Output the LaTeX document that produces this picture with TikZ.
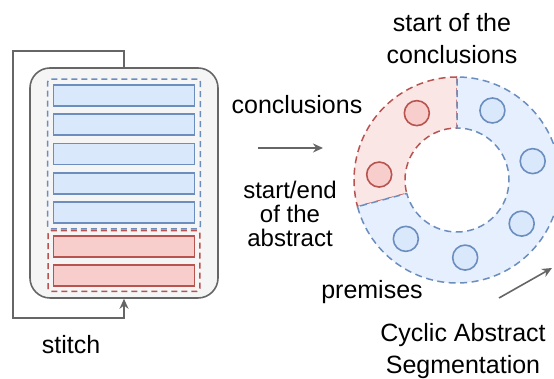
\documentclass[tikz,border=0pt]{standalone}
\usepackage{fontspec}
\setmainfont{Liberation Sans}
\usetikzlibrary{arrows.meta,fit}
\definecolor{bluefill}{HTML}{DAE8FC}
\definecolor{bluedraw}{HTML}{6C8EBF}
\definecolor{redfill}{HTML}{F8CECC}
\definecolor{reddraw}{HTML}{B85450}
\definecolor{grayfill}{HTML}{F5F5F5}
\definecolor{graydraw}{HTML}{666666}
\begin{document}
\begin{tikzpicture}[x=1pt,y=1pt,
		txt/.style={align=center, inner sep=0pt, font=\fontsize{25}{32}\selectfont},
		bar/.style={draw, line width=1.8pt, minimum width=141pt, minimum height=21pt, inner sep=0pt},
		dot/.style={circle, draw, line width=1.6pt, minimum size=25pt, inner sep=0pt},
		grp/.style={draw, line width=1.5pt, rounded corners=3pt, dash pattern=on 6pt off 4pt},
		seg/.style={line width=1.5pt, dash pattern=on 7pt off 4.5pt},
		flow/.style={draw=graydraw, line width=1.6pt, -{Stealth[length=10pt,width=9pt]}}]
		\clip (0,0) rectangle (554,379);
		% the abstract
		\node(abs) at (124,196) [draw=graydraw, fill=grayfill, line width=1.6pt, rounded corners=20pt, minimum width=188pt, minimum height=230pt] {};
		\foreach \y [count=\i] in {283.5,254.25,225,195.75,166.5}
			\node(prem\i) at (124,\y) [bar, draw=bluedraw, fill=bluefill] {};
		\foreach \y [count=\i] in {132.5,103.5}
			\node(conc\i) at (124,\y) [bar, draw=reddraw, fill=redfill] {};
		\node(premgrp) [grp, draw=bluedraw, fit=(prem1)(prem5), inner sep=5pt] {};
		\node(concgrp) [grp, draw=reddraw, fit=(conc1)(conc2), inner sep=4.5pt] {};
		\draw[flow] (abs.north) -- ++(0,16) -| ++(-111,-267) -| (abs.south);
		\node(stitch) at (71,34) [txt] {stitch};
		% the cycle
		\coordinate (ring) at (457,199);
		\begin{scope}[shift={(ring)}]
			\draw[seg, draw=reddraw, fill=redfill!50]
				(90:103) arc[start angle=90, end angle=195, radius=103] -- (195:52)
				arc[start angle=195, end angle=90, radius=52] -- cycle;
			\draw[seg, draw=bluedraw, fill=bluefill!70]
				(195:103) arc[start angle=195, end angle=450, radius=103] -- (90:52)
				arc[start angle=90, end angle=-165, radius=52] -- cycle;
			\foreach \a [count=\i] in {121,176}
				\node(rc\i) at (\a:78) [dot, draw=reddraw, fill=redfill] {};
			\foreach \a [count=\i] in {63,14,-34,-84,-131}
				\node(bc\i) at (\a:78) [dot, draw=bluedraw, fill=bluefill] {};
		\end{scope}
		% labels and arrows
		\node(conclab) at (297,274) [txt] {conclusions};
		\node(startlab) at (290,165) [txt, font=\fontsize{24}{24}\selectfont] {start/end\\of the\\abstract};
		\node(toplab) at (452,340) [txt] {start of the\\conclusions};
		\node(premlab) at (372,87) [txt] {premises};
		\node(caslab) at (463,28) [txt] {Cyclic Abstract\\Segmentation};
		\coordinate (m1) at (258,231);
		\coordinate (m2) at (323,231);
		\draw[flow] (m1) -- (m2);
		\coordinate (s1) at (499,81);
		\coordinate (s2) at (552,111);
		\draw[flow] (s1) -- (s2);
	\end{tikzpicture}
\end{document}
